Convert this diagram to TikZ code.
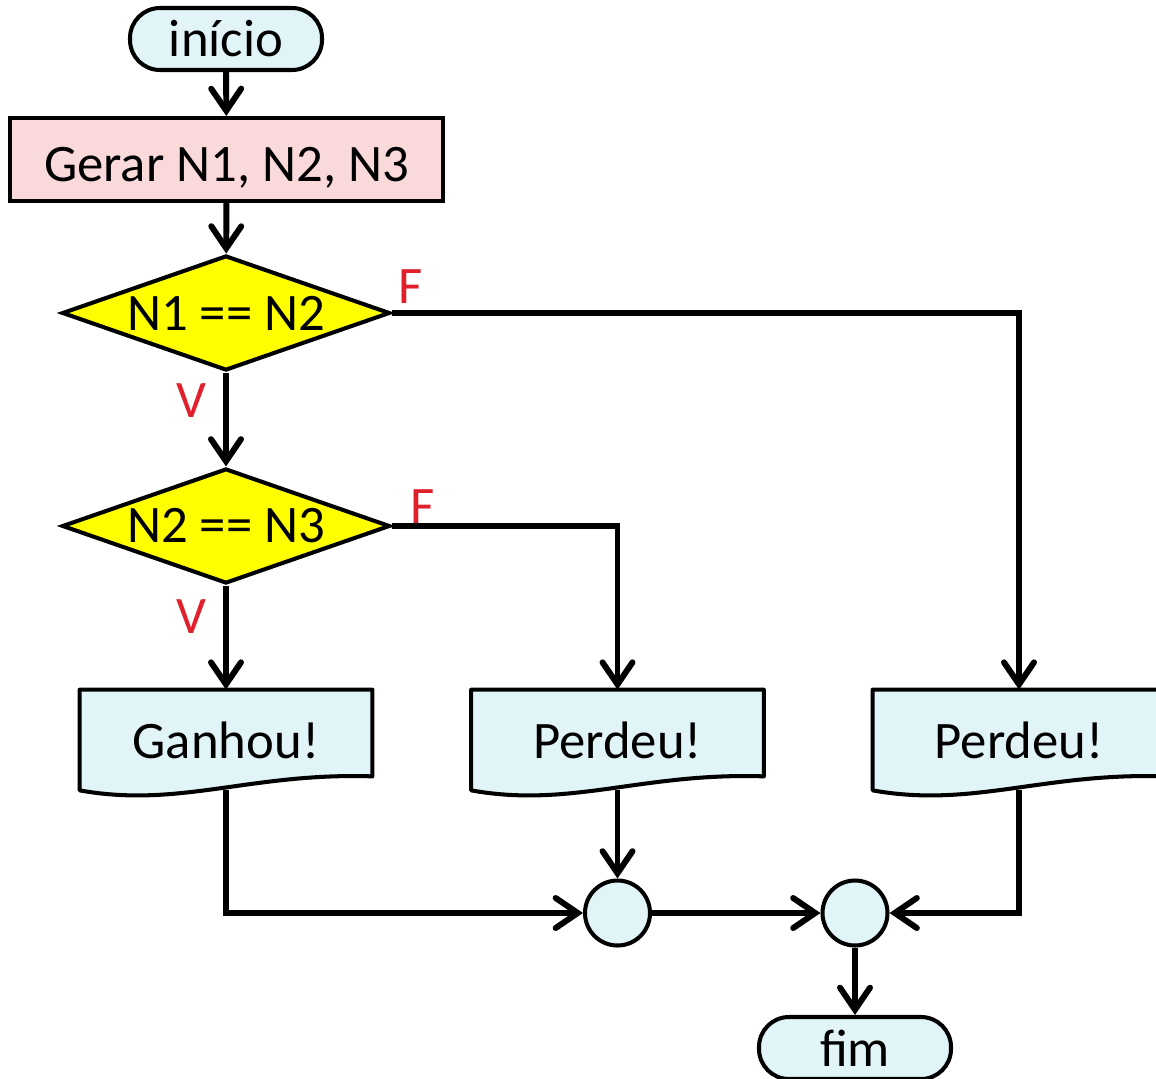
\documentclass[tikz,border=0pt]{standalone}
\usepackage{fontspec}
\setmainfont{Carlito}
\usepackage{tikz}
\usetikzlibrary{arrows.meta,calc,positioning,backgrounds,shapes.geometric}
\usepackage{xcolor}
\definecolor{ink}{HTML}{000000}
\definecolor{pale}{HTML}{E1F4F8}
\definecolor{rose}{HTML}{F9D9DA}
\definecolor{lemon}{HTML}{FFFF00}
\definecolor{alert}{HTML}{E0202A}
\newcommand{\saida}[1]{\begin{pgfonlayer}{background}\draw[docline] (#1.north west)--(#1.north east)--([yshift=.28cm]#1.south east) .. controls ([xshift=-2.44cm,yshift=.36cm]#1.south east) and ([xshift=2cm,yshift=-.36cm]#1.south west) .. (#1.south west)--cycle;\end{pgfonlayer}}
\tikzset{every node/.style={font=\fontsize{30}{34}\selectfont}, terminal/.style={draw=ink,fill=pale,line width=2.3pt,rounded corners=.6cm,minimum width=3.84cm,minimum height=1.24cm,inner sep=0pt}, process/.style={draw=ink,fill=rose,line width=2.3pt,minimum width=8.66cm,minimum height=1.66cm,inner sep=0pt,text height=.86cm,text depth=0pt}, test/.style={diamond,draw=ink,fill=lemon,line width=2.3pt,aspect=2.85,minimum width=6.56cm,minimum height=2.3cm,inner sep=0pt}, docbox/.style={minimum width=5.84cm,minimum height=2cm,inner sep=0pt}, docline/.style={draw=ink,fill=pale,line width=2.3pt,line join=round}, joint/.style={circle,draw=ink,fill=pale,line width=2.3pt,minimum size=1.3cm,inner sep=0pt}, flow/.style={line width=3.4pt,-{Straight Barb[length=4.4mm,width=6mm,line cap=round]}}, flag/.style={text=alert,inner sep=0pt}}

\begin{document}
\begin{tikzpicture}
\useasboundingbox (0,0) rectangle (23.12,-21.56);
\node[terminal] (inicio) at (4.52,-.78) {início};
\node[process] (gerar) at (4.53,-3.19) {Gerar N1, N2, N3};
\node[test] (t1) at (4.52,-6.26) {N1 == N2};
\node[test] (t2) at (4.52,-10.52) {N2 == N3};
\node[docbox] (ganhou) at (4.52,-14.8) {Ganhou!}; \saida{ganhou}
\node[docbox] (perdeuA) at (12.35,-14.8) {Perdeu!}; \saida{perdeuA}
\node[docbox] (perdeuB) at (20.38,-14.8) {Perdeu!}; \saida{perdeuB}
\node[joint] (j1) at (12.35,-18.26) {};
\node[joint] (j2) at (17.1,-18.26) {};
\node[terminal] (fim) at (17.1,-20.96) {fim};
\node[flag] (f1) at (8.22,-5.74) {F};
\node[flag] (v1) at (3.82,-8.02) {V};
\node[flag] (f2) at (8.46,-10.14) {F};
\node[flag] (v2) at (3.82,-12.34) {V};
\draw[flow] (inicio)--(gerar);
\draw[flow] (gerar)--(t1);
\draw[flow] (t1)--(t2);
\draw[flow] (t1.east) -| (perdeuB);
\draw[flow] (t2.east) -| (perdeuA);
\draw[flow] (t2)--(ganhou);
\draw[flow] (ganhou.south) |- (j1);
\draw[flow] (perdeuA.south)--(j1);
\draw[flow] (j1)--(j2);
\draw[flow] (perdeuB.south) |- (j2);
\draw[flow] (j2)--(fim);
\end{tikzpicture}
\end{document}
